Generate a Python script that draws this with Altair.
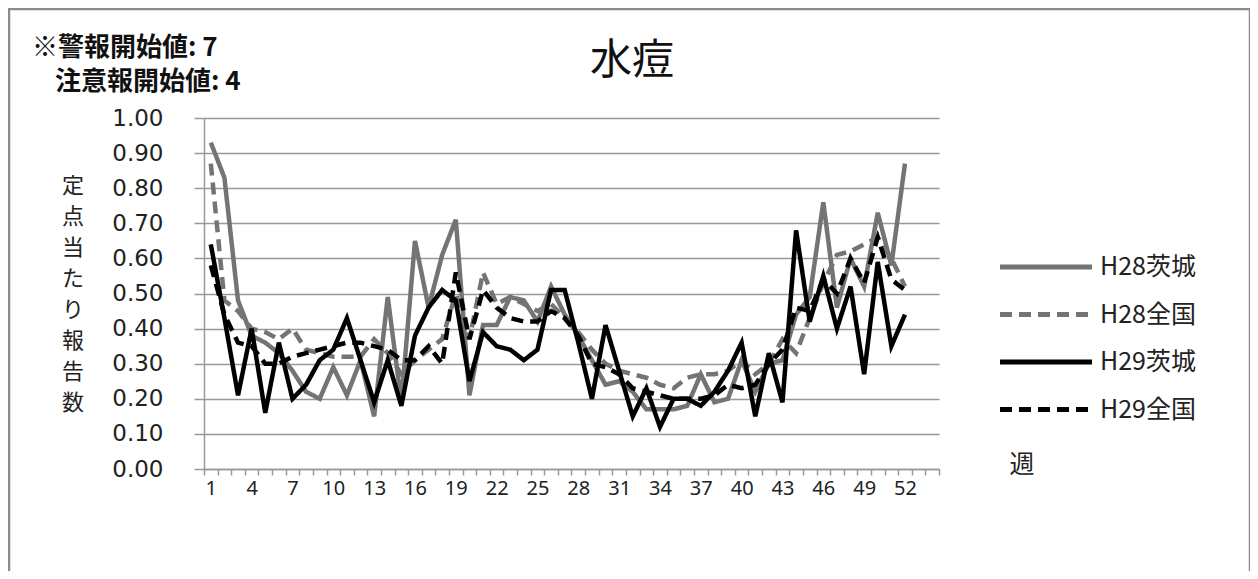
import altair as alt
import pandas as pd

weeks = list(range(1, 53))
series_names = ["H28茨城", "H28全国", "H29茨城", "H29全国"]

h28_ibaraki = [0.93, 0.83, 0.48, 0.38, 0.36, 0.33, 0.28, 0.22, 0.20, 0.29,
               0.21, 0.31, 0.15, 0.49, 0.19, 0.65, 0.46, 0.61, 0.71, 0.21,
               0.41, 0.41, 0.49, 0.48, 0.42, 0.52, 0.44, 0.38, 0.31, 0.24,
               0.25, 0.22, 0.17, 0.17, 0.17, 0.18, 0.27, 0.19, 0.20, 0.31,
               0.22, 0.30, 0.31, 0.44, 0.49, 0.76, 0.46, 0.60, 0.52, 0.73,
               0.58, 0.87]
h28_zenkoku = [0.87, 0.48, 0.45, 0.40, 0.39, 0.37, 0.40, 0.34, 0.33, 0.32,
               0.32, 0.32, 0.37, 0.33, 0.27, 0.31, 0.34, 0.37, 0.50, 0.37,
               0.56, 0.47, 0.49, 0.47, 0.45, 0.47, 0.43, 0.39, 0.34, 0.30,
               0.28, 0.27, 0.26, 0.24, 0.23, 0.26, 0.27, 0.27, 0.28, 0.31,
               0.27, 0.30, 0.37, 0.33, 0.43, 0.53, 0.61, 0.62, 0.64, 0.66,
               0.60, 0.52]
h29_ibaraki = [0.64, 0.43, 0.21, 0.40, 0.16, 0.36, 0.20, 0.24, 0.31, 0.34,
               0.43, 0.31, 0.19, 0.31, 0.18, 0.38, 0.46, 0.51, 0.48, 0.25,
               0.39, 0.35, 0.34, 0.31, 0.34, 0.51, 0.51, 0.36, 0.20, 0.41,
               0.28, 0.15, 0.23, 0.12, 0.20, 0.20, 0.18, 0.22, 0.28, 0.36,
               0.15, 0.33, 0.19, 0.68, 0.42, 0.55, 0.40, 0.52, 0.27, 0.59,
               0.35, 0.44]
h29_zenkoku = [0.58, 0.44, 0.36, 0.35, 0.30, 0.30, 0.32, 0.33, 0.34, 0.35,
               0.36, 0.36, 0.35, 0.34, 0.31, 0.31, 0.35, 0.30, 0.56, 0.37,
               0.51, 0.46, 0.43, 0.42, 0.42, 0.45, 0.43, 0.38, 0.30, 0.29,
               0.27, 0.23, 0.22, 0.21, 0.20, 0.20, 0.20, 0.21, 0.24, 0.23,
               0.24, 0.30, 0.34, 0.46, 0.45, 0.54, 0.50, 0.60, 0.53, 0.66,
               0.54, 0.51]

axis_weeks = list(range(1, 55))
y_ticks = [0.0, 0.1, 0.2, 0.3, 0.4, 0.5, 0.6, 0.7, 0.8, 0.9, 1.0]
title_text = "水痘"
note_line1 = "※警報開始値: 7"
note_line2 = "注意報開始値: 4"
y_title_chars = list("定点当たり報告数")
x_title = "週"

rows = []
for name, vals in zip(series_names, [h28_ibaraki, h28_zenkoku, h29_ibaraki, h29_zenkoku]):
    for w, v in zip(weeks, vals):
        rows.append({"week": w, "value": v, "series": name})
df = pd.DataFrame(rows)

GRAY = "#747474"
AXIS_GRAY = "#999999"
CJK = "Noto Sans CJK JP"

legend = alt.Legend(
    title=None, orient="none", legendX=828, legendY=135,
    symbolType="M-4,0H4", symbolSize=529, symbolStrokeWidth=5,
    labelFontSize=25, labelFont=CJK, labelColor="#222222",
    labelOffset=40, rowPadding=20.5,
)

lines = alt.Chart(df).mark_line(strokeWidth=4.5, strokeJoin="miter").encode(
    x=alt.X(
        "week:O",
        bandPosition=0.5,
        scale=alt.Scale(type="band", domain=axis_weeks, paddingInner=0, paddingOuter=0),
        axis=alt.Axis(
            title=None, labelAngle=0, tickBand="extent", tickSize=6,
            tickColor=AXIS_GRAY, domainColor=AXIS_GRAY, tickWidth=1.5, domainWidth=1.5,
            labelExpr="(datum.value - 1) % 3 == 0 && datum.value <= 52 ? datum.label : ''",
            labelFontSize=20, labelFont="Noto Sans", labelColor="#222222", labelPadding=3,
            grid=False,
        ),
    ),
    y=alt.Y(
        "value:Q",
        scale=alt.Scale(domain=[0, 1]),
        axis=alt.Axis(
            title=None, values=y_ticks, format=".2f", grid=True, gridColor=AXIS_GRAY,
            gridWidth=1.5, tickSize=10, tickColor=AXIS_GRAY, tickWidth=1.5,
            domainColor=AXIS_GRAY, domainWidth=1.5, labelFontSize=23,
            labelFont="DejaVu Sans", labelColor="#222222", labelPadding=31,
        ),
    ),
    color=alt.Color("series:N", scale=alt.Scale(domain=series_names,
                    range=[GRAY, GRAY, "#000000", "#000000"]), legend=legend),
    strokeDash=alt.StrokeDash("series:N", scale=alt.Scale(domain=series_names,
                    range=[[1, 0], [12, 7], [1, 0], [12, 7]]), legend=legend),
    order=alt.Order("week:Q"),
)

title = alt.Chart(pd.DataFrame({"t": [title_text]})).mark_text(
    fontSize=42, font=CJK, color="#111111", align="center", baseline="middle"
).encode(text="t:N", x=alt.value(428), y=alt.value(-57))

note1 = alt.Chart(pd.DataFrame({"t": [note_line1]})).mark_text(
    fontSize=26, font=CJK, fontWeight="bold", color="#111111", align="left", baseline="middle"
).encode(text="t:N", x=alt.value(-172), y=alt.value(-70))

note2 = alt.Chart(pd.DataFrame({"t": [note_line2]})).mark_text(
    fontSize=26, font=CJK, fontWeight="bold", color="#111111", align="left", baseline="middle"
).encode(text="t:N", x=alt.value(-149), y=alt.value(-36))

ytitle = alt.Chart(pd.DataFrame({"t": [y_title_chars]})).mark_text(
    fontSize=22, font=CJK, color="#222222", align="center", baseline="top", lineHeight=31
).encode(text="t", x=alt.value(-131), y=alt.value(58))

xtitle = alt.Chart(pd.DataFrame({"t": [x_title]})).mark_text(
    fontSize=25, font=CJK, color="#222222", align="center", baseline="middle"
).encode(text="t:N", x=alt.value(818), y=alt.value(347))

frame = alt.Chart(pd.DataFrame({"a": [0]})).mark_rect(
    fill="transparent", stroke="#8c8c8c", strokeWidth=2.5
).encode(x=alt.value(-195), x2=alt.value(1046), y=alt.value(-109), y2=alt.value(500))

chart = alt.layer(frame, lines, title, note1, note2, ytitle, xtitle).properties(
    width=735, height=351,
    padding={"left": 196, "top": 110, "right": 311, "bottom": 102},
    autosize=alt.AutoSizeParams(type="none"),
).configure_view(strokeWidth=0)

chart.save("out.html", embed_options={"renderer": "svg", "actions": False})
